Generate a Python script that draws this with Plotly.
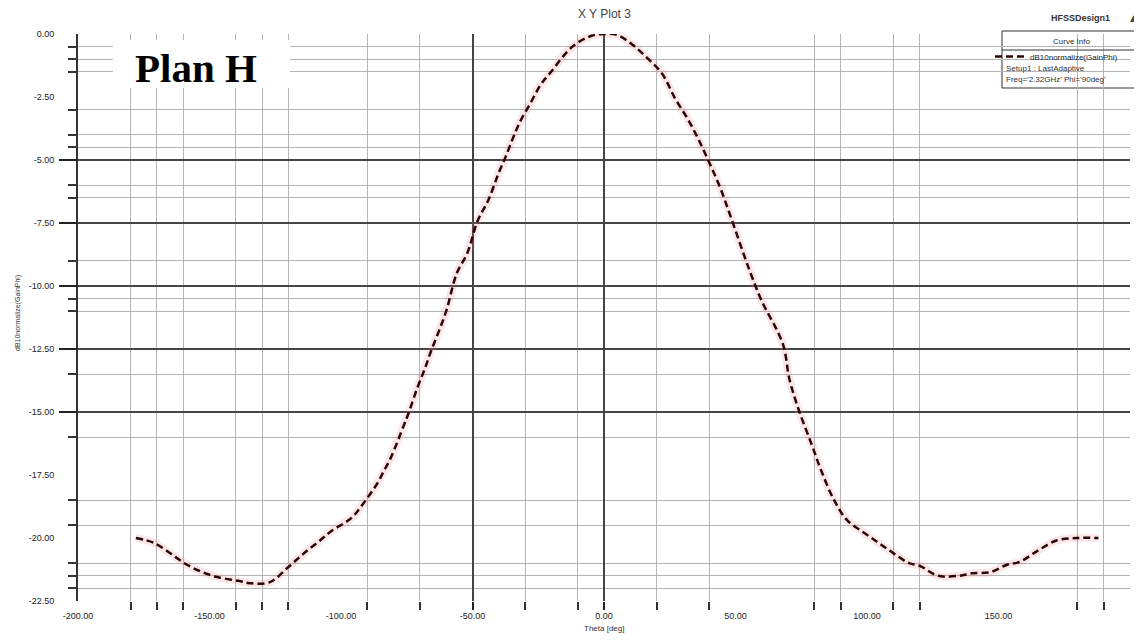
import plotly.graph_objects as go

# ---- data ----
theta = [-178, -171, -163, -159.5, -154, -147, -139, -134, -127, -120, -114, -108, -104,
         -96, -92, -86, -84, -81, -76, -74.5, -71, -68, -66, -63, -60, -56, -52, -48, -44,
         -40, -37.5, -34.5, -32, -28, -24, -20.5, -12, -5, 0, 5, 11, 16.5, 22, 27, 32, 36,
         40, 44, 48, 53.5, 56.5, 60, 68, 70.5, 74, 79, 82.5, 87.5, 92.5, 99, 104.5, 110,
         116, 120, 127, 135, 140, 147, 153, 158, 165, 172, 180, 188]
gain_db = [-20.0, -20.2, -20.75, -21.0, -21.3, -21.55, -21.7, -21.8, -21.75, -21.15, -20.6,
           -20.1, -19.75, -19.2, -18.7, -17.8, -17.4, -16.8, -15.5, -15.1, -14.05, -13.25,
           -12.65, -11.85, -11.0, -9.5, -8.7, -7.4, -6.6, -5.5, -4.9, -4.1, -3.5, -2.75,
           -2.0, -1.55, -0.5, -0.08, 0.0, -0.04, -0.44, -0.96, -1.56, -2.55, -3.4, -4.2,
           -5.1, -6.05, -7.2, -8.85, -9.7, -10.6, -12.3, -13.7, -14.9, -16.3, -17.3, -18.5,
           -19.3, -19.8, -20.2, -20.6, -21.0, -21.1, -21.5, -21.5, -21.4, -21.35, -21.07,
           -20.95, -20.5, -20.1, -20.0, -20.0]

x_label_vals = [-200, -150, -100, -50, 0, 50, 100, 150, 200]
x_label_text = ["-200.00", "-150.00", "-100.00", "-50.00", "0.00", "50.00", "100.00", "150.00", "200.00"]
y_label_vals = [0, -2.5, -5, -7.5, -10, -12.5, -15, -17.5, -20, -22.5]
y_label_text = ["0.00", "-2.50", "-5.00", "-7.50", "-10.00", "-12.50", "-15.00", "-17.50", "-20.00", "-22.50"]

x_grid_light = [-180, -170, -160, -140, -130, -120, -90, -70, -50, -30, -10, 0, 20, 40, 80, 90,
                110, 120, 180, 190]
x_grid_dark = [-50, 0]
y_grid_light = [-0.5, -1.0, -1.5, -3.0, -4.0, -4.5, -6.0, -6.5, -9.0, -10.5, -11.0, -13.5,
                -16.0, -18.5, -19.5, -21.0, -21.5, -22.0]
y_grid_dark = [-5, -7.5, -10, -12.5, -15]

# ---- layout geometry (page pixels; the figure div sits 8px in from the page corner) ----
PAGE_W, PAGE_H = 1142, 641
OFF = 8
W, H = PAGE_W - OFF, PAGE_H - OFF
L, R, T, B = 78, 1130, 34, 601   # plot area in page pixels


def px(xp):
    return (xp - L) / (R - L)


def py(yp):
    return (B - yp) / (B - T)


FONT = "Liberation Sans, Arial, sans-serif"
GRAY = "#b4b4b4"
DARK = "#454545"

fig = go.Figure()

# faint pinkish halo (JPEG-like) under the curve
fig.add_trace(go.Scatter(x=theta, y=gain_db, mode="lines", showlegend=False,
                         hoverinfo="skip",
                         line=dict(color="rgba(235,120,120,0.18)", width=8, shape="spline")))
fig.add_trace(go.Scatter(x=theta, y=gain_db, mode="lines", name="dB10normalize(GainPhi)",
                         line=dict(color="#2a0606", width=2.5, dash="7px,4px", shape="spline"),
                         cliponaxis=False))
# dummy trace to attach dark-grid overlay axes
fig.add_trace(go.Scatter(x=[None], y=[None], xaxis="x2", yaxis="y2", showlegend=False,
                         hoverinfo="skip"))

fig.update_layout(
    width=W, height=H, autosize=False,
    margin=dict(l=L - OFF, r=PAGE_W - R, t=T - OFF, b=PAGE_H - B),
    paper_bgcolor="white", plot_bgcolor="white",
    font=dict(family=FONT, size=9, color="#222"),
    xaxis=dict(range=[-200, 200], tickmode="array", tickvals=x_label_vals,
               ticktext=x_label_text, ticks="", showgrid=False, zeroline=False,
               showline=False, ticklabelstandoff=8,
               tickfont=dict(size=9, color="#222"),
               minor=dict(tickmode="array", tickvals=x_grid_light, showgrid=True,
                          gridcolor=GRAY, gridwidth=1, ticks="outside", ticklen=8,
                          tickwidth=2, tickcolor="#333")),
    yaxis=dict(range=[-22.5, 0], tickmode="array", tickvals=y_label_vals,
               ticktext=y_label_text, ticks="", showgrid=False, zeroline=False,
               showline=True, linecolor="#333", linewidth=2, ticklabelstandoff=20,
               tickfont=dict(size=9, color="#222"),
               minor=dict(tickmode="array", tickvals=y_grid_light, showgrid=True,
                          gridcolor=GRAY, gridwidth=1, ticks="outside", ticklen=8,
                          tickwidth=2, tickcolor="#333")),
    xaxis2=dict(range=[-200, 200], overlaying="x", side="bottom", tickmode="array",
                tickvals=x_grid_dark, showticklabels=False, ticks="outside", ticklen=8,
                tickwidth=2, tickcolor="#222", showgrid=True, gridcolor=DARK,
                gridwidth=1.5, zeroline=False, showline=False),
    yaxis2=dict(range=[-22.5, 0], overlaying="y", side="left", tickmode="array",
                tickvals=y_grid_dark, showticklabels=False, ticks="outside", ticklen=18,
                tickwidth=2, tickcolor="#222", showgrid=True, gridcolor=DARK,
                gridwidth=1.5, zeroline=False, showline=False),
    legend=dict(x=px(990), y=py(42), xanchor="left", yanchor="top",
                bgcolor="rgba(0,0,0,0)", borderwidth=0, itemwidth=30,
                font=dict(size=8, color="#222"), tracegroupgap=0),
    showlegend=True,
)

shapes = [
    # white box behind the "Plan H" label
    dict(type="rect", xref="paper", yref="paper", x0=px(113), x1=px(290), y0=py(88), y1=py(40),
         fillcolor="white", line=dict(width=0), layer="above"),
    # legend frame
    dict(type="rect", xref="paper", yref="paper", x0=px(1002), x1=px(1140), y0=py(88), y1=py(31),
         fillcolor="white", line=dict(width=1, color="#333"), layer="below"),
    dict(type="line", xref="paper", yref="paper", x0=px(1002), x1=px(1140), y0=py(50), y1=py(50),
         line=dict(width=1, color="#333"), layer="above"),
]

annotations = [
    dict(text="<b>Plan H</b>", xref="paper", yref="paper", x=px(196), y=py(68),
         showarrow=False, font=dict(family="Liberation Serif, Times New Roman, serif",
                                    size=41, color="black"),
         xanchor="center", yanchor="middle"),
    dict(text="X Y Plot 3", xref="paper", yref="paper", x=px(604), y=py(14),
         showarrow=False, font=dict(size=12, color="#444"), xanchor="center", yanchor="middle"),
    dict(text="<b>HFSSDesign1</b>", xref="paper", yref="paper", x=px(1080), y=py(18),
         showarrow=False, font=dict(size=9, color="#333"), xanchor="center", yanchor="middle"),
    dict(text="▲", xref="paper", yref="paper", x=px(1133), y=py(18),
         showarrow=False, font=dict(family="DejaVu Sans", size=9, color="#444"),
         xanchor="center", yanchor="middle"),
    dict(text="Curve Info", xref="paper", yref="paper", x=px(1071), y=py(41),
         showarrow=False, font=dict(size=8, color="#333"), xanchor="center", yanchor="middle"),
    dict(text="Setup1 : LastAdaptive", xref="paper", yref="paper", x=px(1004), y=py(68),
         showarrow=False, font=dict(size=8, color="#333"), xanchor="left", yanchor="middle"),
    dict(text="Freq='2.32GHz' Phi='90deg'", xref="paper", yref="paper", x=px(1004), y=py(79),
         showarrow=False, font=dict(size=8, color="#333"), xanchor="left", yanchor="middle"),
    dict(text="dB10normalize(GainPhi)", xref="paper", yref="paper", x=px(18), y=py(313),
         showarrow=False, textangle=-90, font=dict(size=7, color="#333"),
         xanchor="center", yanchor="middle"),
    dict(text="Theta [deg]", xref="paper", yref="paper", x=px(604), y=py(628),
         showarrow=False, font=dict(size=8, color="#333"), xanchor="center", yanchor="middle"),
]

fig.update_layout(shapes=shapes, annotations=annotations)
fig.write_html("out.html")
